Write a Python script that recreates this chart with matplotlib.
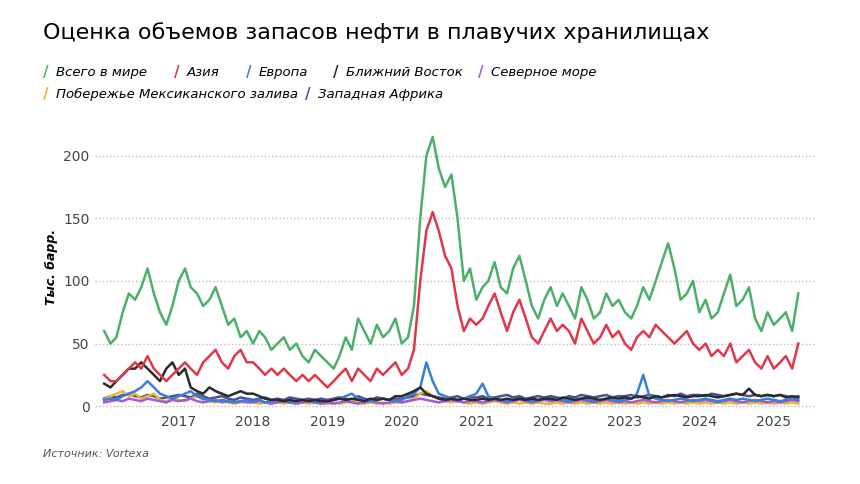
import matplotlib
matplotlib.use("Agg")
import matplotlib.pyplot as plt
import pandas as pd

dates = pd.date_range("2016-01-01", periods=113, freq="MS")

world = [60,50,55,75,90,85,95,110,90,75,65,80,
 100,110,95,90,80,85,95,80,65,70,55,60,
 50,60,55,45,50,55,45,50,40,35,45,40,
 35,30,40,55,45,70,60,50,65,55,60,70,
 50,55,80,150,200,215,190,175,185,150,100,110,
 85,95,100,115,95,90,110,120,100,80,70,85,
 95,80,90,80,70,95,85,70,75,90,80,85,
 75,70,80,95,85,100,115,130,110,85,90,100,
 75,85,70,75,90,105,80,85,95,70,60,75,
 65,70,75,60,90]
asia = [25,20,20,25,30,35,30,40,30,25,20,25,
 30,35,30,25,35,40,45,35,30,40,45,35,
 35,30,25,30,25,30,25,20,25,20,25,20,
 15,20,25,30,20,30,25,20,30,25,30,35,
 25,30,45,100,140,155,140,120,110,80,60,70,
 65,70,80,90,75,60,75,85,70,55,50,60,
 70,60,65,60,50,70,60,50,55,65,55,60,
 50,45,55,60,55,65,60,55,50,55,60,50,
 45,50,40,45,40,50,35,40,45,35,30,40,
 30,35,40,30,50]
europe = [5,6,5,8,10,12,15,20,15,10,8,6,
 8,10,12,8,6,5,4,5,4,3,4,5,
 4,5,3,4,5,4,3,4,5,4,3,4,
 4,5,6,8,10,6,5,4,5,6,5,4,
 5,8,10,15,35,20,10,8,6,5,6,8,
 10,18,8,6,5,4,5,6,5,4,5,6,
 5,6,5,4,5,6,5,4,5,6,5,4,
 5,6,10,25,8,6,5,4,5,6,5,4,
 5,6,5,4,5,6,5,6,5,4,5,6,
 5,4,5,6,5]
mideast = [18,15,20,25,30,30,35,30,25,20,30,35,
 25,30,15,12,10,15,12,10,8,10,12,10,
 10,8,6,5,5,4,5,4,5,4,5,4,
 4,5,6,5,6,5,4,6,5,6,5,8,
 8,10,12,15,10,8,6,5,6,5,6,5,
 5,6,5,6,5,6,5,6,5,6,5,6,
 6,5,7,6,5,6,7,6,5,6,7,6,
 7,6,8,7,6,8,7,8,9,8,7,8,
 8,9,8,7,8,9,10,9,14,9,8,9,
 8,9,7,8,7]
northsea = [3,4,5,4,6,5,4,6,5,4,3,5,
 4,5,6,4,3,4,5,3,4,3,4,3,
 3,4,3,2,3,4,3,2,3,4,3,2,
 3,2,3,4,3,2,3,4,3,2,3,4,
 3,4,5,6,5,4,3,4,5,4,3,4,
 4,3,4,5,4,3,4,5,4,3,4,5,
 4,5,4,3,4,5,4,3,4,5,4,3,
 4,3,4,5,4,3,4,5,4,3,4,5,
 4,5,4,3,4,5,4,3,4,5,4,3,
 4,3,4,5,4]
gulf = [5,8,10,12,8,10,6,8,10,5,4,6,
 5,4,6,8,5,4,3,4,3,2,3,4,
 3,2,3,4,3,2,3,2,3,2,3,2,
 2,3,2,3,4,3,2,3,2,3,2,3,
 3,4,6,10,12,8,6,4,3,4,3,2,
 3,2,3,4,3,2,3,2,3,2,3,2,
 2,3,2,3,2,3,2,3,2,3,2,3,
 2,3,2,3,2,3,2,3,2,3,2,3,
 2,3,2,3,2,3,2,3,2,3,2,3,
 2,3,2,3,2]
wafrica = [6,8,7,9,10,8,7,9,8,6,7,8,
 9,8,7,10,8,6,7,8,6,5,7,6,
 5,6,7,5,6,5,7,6,5,6,5,6,
 5,6,7,6,5,8,6,5,7,6,5,6,
 6,7,8,10,9,8,7,6,7,8,6,7,
 7,8,6,7,8,9,7,8,6,7,8,7,
 8,7,6,8,7,9,8,7,8,9,7,8,
 8,9,7,8,9,8,7,9,8,10,8,9,
 9,8,10,9,8,9,10,9,8,9,8,9,
 8,9,8,7,8]

series = [
 ("Всего в мире", world, "#4caf6a"),
 ("Азия", asia, "#e0384a"),
 ("Европа", europe, "#3a7fd5"),
 ("Ближний Восток", mideast, "#2b2b2b"),
 ("Северное море", northsea, "#a35bd6"),
 ("Побережье Мексиканского залива", gulf, "#f2b233"),
 ("Западная Африка", wafrica, "#4b4f9c"),
]

plt.rcParams["font.family"] = "DejaVu Sans"
fig = plt.figure(figsize=(8.6, 4.84), dpi=100)
ax = fig.add_axes([0.11, 0.153, 0.84, 0.59])
order = [6, 5, 4, 2, 3, 1, 0]
for i in order:
    name, vals, col = series[i]
    ax.plot(dates, vals, color=col, lw=1.8, label=name)
ax.set_ylim(-3, 225)
ax.set_xlim(pd.Timestamp("2015-11-15"), pd.Timestamp("2025-08-01"))
ax.set_yticks([0, 50, 100, 150, 200])
ax.yaxis.grid(True, linestyle=":", color="#bbbbbb", lw=1)
ax.set_xticks(pd.to_datetime([f"{y}-01-01" for y in range(2017, 2026)]))
ax.set_xticklabels([str(y) for y in range(2017, 2026)])
for s in ax.spines.values():
    s.set_visible(False)
ax.tick_params(length=0, labelsize=10, colors="#444444")
ax.set_ylabel("Тыс. барр.", fontsize=9, fontstyle="italic", fontweight="bold")
ax.axhline(-3, color="#cccccc", lw=0.8)

fig.text(0.05, 0.92, "Оценка объемов запасов нефти в плавучих хранилищах", fontsize=16)
handles = {n: h for h, n in zip(*ax.get_legend_handles_labels())}
from matplotlib.lines import Line2D
row1 = ["Всего в мире", "Азия", "Европа", "Ближний Восток", "Северное море"]
row2 = ["Побережье Мексиканского залива", "Западная Африка"]
cols = {n: c for n, v, c in series}
for row, y in ((row1, 0.85), (row2, 0.805)):
    x = 0.05
    for n in row:
        fig.text(x, y, "/", color=cols[n], fontsize=11, fontweight="bold", va="center")
        fig.text(x + 0.015, y, n, fontsize=9.5, fontstyle="italic", va="center")
        x += 0.015 + 0.0085 * len(n) + 0.035
fig.text(0.05, 0.055, "Источник: Vortexa", fontsize=8, fontstyle="italic", color="#555555")
fig.text(0.5, 0.52, "ИМР", fontsize=48, color="#e8e8e8", ha="center", va="center", zorder=-1, fontweight="bold")
fig.savefig("out.png", dpi=100)
